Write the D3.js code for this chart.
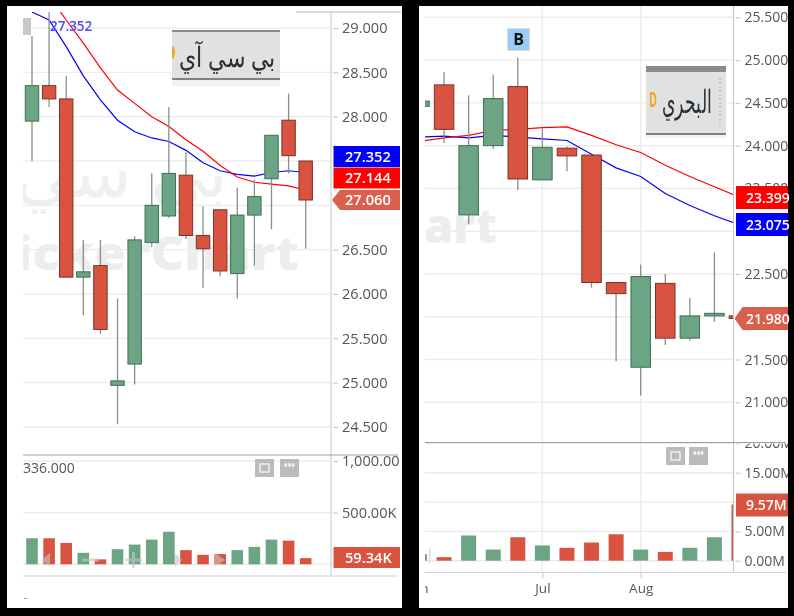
<!DOCTYPE html>
<html><head><meta charset="utf-8">
<script src="https://cdn.jsdelivr.net/npm/d3@7"></script>
<style>html,body{margin:0;padding:0;background:#000}svg{display:block;filter:blur(0.35px)}
text{font-family:"Open Sans",sans-serif}</style></head><body><script>
// ---- left panel data
const leftOpen  =[27.95,28.35,28.20,26.19,26.32,24.97,25.21,26.58,26.88,27.34,26.66,26.95,26.23,26.89,27.30,27.96,27.50];
const leftClose =[28.35,28.20,26.19,26.25,25.60,25.02,26.61,27.00,27.36,26.66,26.51,26.26,26.89,27.10,27.79,27.56,27.06];
const leftHigh  =[28.91,29.18,28.46,26.61,26.61,25.95,26.65,27.36,28.11,27.60,26.99,26.95,27.20,27.29,27.79,28.26,27.50];
const leftLow   =[27.50,28.11,26.19,25.76,25.55,24.53,24.98,26.53,26.86,26.62,26.07,26.20,25.95,26.32,26.73,27.36,26.51];
const leftBlue  =[29.18,29.09,28.79,28.46,28.19,27.96,27.83,27.76,27.72,27.62,27.48,27.39,27.35,27.33,27.37,27.39,27.37];
const leftRed   =[29.60,29.36,29.09,28.83,28.55,28.30,28.15,28.00,27.89,27.74,27.61,27.45,27.32,27.26,27.24,27.22,27.17];
const leftVol   =[252,252,207,111,48,146,191,239,315,137,92,99,137,169,239,229,59.34];
const leftPriceGrid=[24.5,25,25.5,26,26.5,27,27.5,28,28.5,29];
const leftPriceTicks=[24.5,25,25.5,26,26.5,28,28.5,29];
const leftVolTicks=[0,500,1000];
const leftVolLabels=["","500.00K","1,000.00"];
// ---- right panel data
const rightOpen =[24.46,24.71,23.19,24.00,24.69,23.60,23.97,23.89,22.40,21.41,22.39,21.75,22.01,22.01];
const rightClose=[24.52,24.19,24.00,24.55,23.61,23.98,23.88,22.40,22.27,22.47,21.75,22.01,22.04,21.98];
const rightHigh =[24.52,24.86,24.59,24.83,25.03,24.20,23.99,23.89,22.40,22.61,22.50,22.22,22.75,22.01];
const rightLow  =[24.46,24.03,23.08,23.96,23.48,23.60,23.70,22.34,21.48,21.08,21.67,21.72,21.94,21.97];
const rightBlue =[24.10,24.11,24.09,24.12,24.10,24.08,24.06,23.90,23.74,23.64,23.44,23.30,23.18,23.075];
const rightRed  =[24.05,24.09,24.12,24.18,24.19,24.21,24.22,24.12,24.01,23.92,23.77,23.64,23.52,23.399];
const rightVol  =[1.1,0.6,4.3,1.9,4.0,2.6,2.2,3.1,4.5,1.9,1.5,2.2,4.0,9.57];
const rightPriceGrid=[21,21.5,22,22.5,23,23.5,24,24.5,25,25.5];
const rightPriceTicks=[21,21.5,22.5,23.5,24,24.5,25,25.5];
const rightVolTicks=[0,5,10,15,20];
const rightVolLabels=["0.00M","5.00M","","15.00M","20.00M"];
const monthIdx=[-0.06,5,9];
const monthLabels=["Jun","Jul","Aug"];

const C={up:"#6ba583",upB:"#3f6f57",dn:"#d85440",dnB:"#7f3025",wick:"#8c8c8c",grid:"#ececec",axis:"#c4c4c4",txt:"#565656",blue:"#0000ff",red:"#ff0000",tag:"#d9604c"};

const svg=d3.select("body").append("svg").attr("width",794).attr("height",616);
svg.append("rect").attr("width",794).attr("height",616).attr("fill","#000");
const defs=svg.append("defs");
function clip(id,x,y,w,h){defs.append("clipPath").attr("id",id).append("rect").attr("x",x).attr("y",y).attr("width",w).attr("height",h);}

function panel(o){
  const g=svg.append("g");
  g.append("rect").attr("x",o.px).attr("y",6).attr("width",o.pw).attr("height",602).attr("fill","#fff");
  const x=d3.scaleLinear().domain(o.xDom).range(o.xRange);
  const y=d3.scaleLinear().domain(o.yDom).range(o.yRange);
  const v=d3.scaleLinear().domain(o.vDom).range(o.vRange);
  clip(o.id+"P",o.l,o.top,o.r-o.l,o.sep-o.top);
  clip(o.id+"V",o.l,o.sep,o.r-o.l,o.bot-o.sep);
  clip(o.id+"A0",o.r,o.top,o.pEnd-o.r,o.sep-o.top+2);
  clip(o.id+"B0",o.r,o.sep+1,o.pEnd-o.r,o.bot-o.sep);
  const grid=g.append("g").attr("stroke",C.grid).attr("stroke-width",1.4);
  grid.selectAll(".a").data(o.pGrid).join("line").attr("x1",o.l).attr("x2",o.r).attr("y1",d=>y(d)).attr("y2",d=>y(d));
  grid.selectAll(".b").data(o.vTicks).join("line").attr("x1",o.l).attr("x2",o.r).attr("y1",d=>v(d)).attr("y2",d=>v(d));
  o.back&&o.back(g,x);
  const wp=g.append("g").attr("clip-path",`url(#${o.id}P)`);
  o.water(wp);
  const ln=d3.line().x((d,i)=>x(i)).y(d=>y(d));
  wp.append("path").datum(o.blue).attr("d",ln).attr("fill","none").attr("stroke",C.blue).attr("stroke-width",1.2);
  wp.append("path").datum(o.redL).attr("d",ln).attr("fill","none").attr("stroke",C.red).attr("stroke-width",1.2);
  const idx=d3.range(o.open.length);
  wp.selectAll("line.w").data(idx).join("line").attr("x1",i=>x(i)).attr("x2",i=>x(i))
    .attr("y1",i=>y(o.high[i])).attr("y2",i=>y(o.low[i])).attr("stroke",C.wick).attr("stroke-width",1.3);
  wp.selectAll("rect.c").data(idx).join("rect")
    .attr("x",i=>x(i)-o.bw/2).attr("width",o.bw)
    .attr("y",i=>y(Math.max(o.open[i],o.close[i])))
    .attr("height",i=>Math.max(2.5,Math.abs(y(o.open[i])-y(o.close[i]))))
    .attr("fill",i=>o.close[i]>=o.open[i]?C.up:C.dn)
    .attr("stroke",i=>o.close[i]>=o.open[i]?C.upB:C.dnB).attr("stroke-width",1);
  const vg=g.append("g").attr("clip-path",`url(#${o.id}V)`);
  vg.selectAll("rect").data(idx).join("rect").attr("x",i=>x(i)-o.vw/2).attr("width",o.vw)
    .attr("y",i=>v(o.vol[i])).attr("height",i=>v(0)-v(o.vol[i]))
    .attr("fill",i=>o.close[i]>=o.open[i]?C.up:C.dn);
  g.append("line").attr("x1",o.r).attr("x2",o.r).attr("y1",o.top).attr("y2",o.bot).attr("stroke",C.axis);
  g.append("line").attr("x1",o.l).attr("x2",o.pEnd-2).attr("y1",o.sep).attr("y2",o.sep).attr("stroke","#a0a0a0").attr("stroke-width",1.2);
  g.append("line").attr("x1",o.l).attr("x2",o.pEnd-2).attr("y1",o.bot).attr("y2",o.bot).attr("stroke","#d4d4d4").attr("stroke-width",1.2);
  const axP=d3.axisRight(y).tickValues(o.pTicks).tickFormat(d3.format(".3f")).tickSize(5).tickPadding(4);
  const axV=d3.axisRight(v).tickValues(o.vTicks).tickFormat((d,i)=>o.vLabels[i]).tickSize(5).tickPadding(4);
  const a1=g.append("g").attr("clip-path",`url(#${o.id}A0)`).append("g").attr("transform",`translate(${o.r+2},0)`).call(axP);
  const a2=g.append("g").attr("clip-path",`url(#${o.id}B0)`).append("g").attr("transform",`translate(${o.r+2},0)`).call(axV);
  [a1,a2].forEach(a=>{a.select(".domain").remove();a.selectAll("line").attr("stroke","#c4c4c4");
    a.selectAll("text").attr("fill",C.txt).attr("font-size",o.fs).attr("font-family",'"Open Sans",sans-serif');});
  const tags=g.append("g");
  o.tags.forEach(t=>{
    const yy=t.y, h=t.h;
    if(t.arrow){tags.append("path").attr("d",`M${o.r+1},${yy} L${o.r+9},${yy-h/2} H${o.pEnd} V${yy+h/2} H${o.r+9} Z`).attr("fill",t.c);}
    else tags.append("rect").attr("x",o.r+2.5).attr("y",yy-h/2).attr("width",o.pEnd-o.r-2.5).attr("height",h).attr("fill",t.c);
    tags.append("text").attr("x",o.tagX).attr("y",yy).attr("dy","0.36em").attr("fill","#fff").attr("font-weight",600).attr("font-size",o.fs).text(t.t);
  });
  const bt=g.append("g");
  o.btn.forEach((b,i)=>{
    bt.append("rect").attr("x",b).attr("y",o.btnY).attr("width",19).attr("height",18).attr("fill","#bbbbbb");
    if(i===0)bt.append("rect").attr("x",b+5).attr("y",o.btnY+5).attr("width",9).attr("height",8).attr("fill","none").attr("stroke","#efefef").attr("stroke-width",1.5);
    else bt.append("text").attr("x",b+9.5).attr("y",o.btnY+11).attr("text-anchor","middle").attr("fill","#f2f2f2").attr("font-size",12).attr("font-weight",700).text("•••").attr("textLength",11).attr("lengthAdjust","spacingAndGlyphs");
  });
  o.extra(g,x,y,v);
}

function logo(g,x,y,w,h,barT,barB,txt,fs,tx,ty,len){
  g.append("rect").attr("x",x).attr("y",y).attr("width",w).attr("height",h).attr("fill","#f1f3ef");
  g.append("rect").attr("x",x).attr("y",y).attr("width",w).attr("height",h-barB).attr("fill","#e1e1e1");
  g.append("rect").attr("x",x).attr("y",y).attr("width",w).attr("height",barT).attr("fill","#8a8a8a");
  g.append("rect").attr("x",x).attr("y",y+h-barB-2).attr("width",w).attr("height",2).attr("fill","#808080");
  g.append("text").attr("x",tx).attr("y",ty).attr("text-anchor","middle").attr("fill","#263238").attr("font-size",fs)
   .attr("font-family",'"DejaVu Sans",sans-serif').attr("textLength",len).attr("lengthAdjust","spacingAndGlyphs").text(txt);
}

panel({id:"L",px:7,pw:395,l:23,r:331,top:12,sep:455,bot:576,pEnd:400,
  xDom:[0,16],xRange:[32,305.7],yDom:[24.5,29],yRange:[427,28],vDom:[0,1000],vRange:[564.3,461],
  pGrid:leftPriceGrid,pTicks:leftPriceTicks,vTicks:leftVolTicks,vLabels:leftVolLabels,fs:14.6,bw:13.4,vw:11.6,
  open:leftOpen,close:leftClose,high:leftHigh,low:leftLow,blue:leftBlue,redL:leftRed,vol:leftVol,tagX:345,
  tags:[{y:156.5,h:21,c:C.blue,t:"27.352"},{y:178,h:21,c:C.red,t:"27.144"},
        {y:200,h:20,c:C.tag,t:"27.060",arrow:true},{y:557.5,h:21,c:C.dn,t:"59.34K"}],
  btn:[255,280],btnY:459,
  water(w){
    w.append("text").attr("x",227).attr("y",197).attr("text-anchor","end").attr("fill","#efefef").attr("font-size",70).attr("font-family",'"DejaVu Sans",sans-serif').text("بي سي آي");
    w.append("text").attr("x",299).attr("y",270).attr("text-anchor","end").attr("fill","#ededed").attr("font-size",46).attr("font-weight",800).attr("textLength",314).attr("lengthAdjust","spacingAndGlyphs").text("TickerChart");
  },
  extra(g){
    g.append("line").attr("x1",296).attr("x2",401).attr("y1",12).attr("y2",12).attr("stroke","#b4b4b4");
    g.append("rect").attr("x",23).attr("y",18).attr("width",8).attr("height",17).attr("fill","#c8c8c8");
    g.append("text").attr("x",50).attr("y",31).attr("fill","#4a4aff").attr("font-size",13.5).attr("font-weight",600).text("27.352");
    g.append("text").attr("x",23).attr("y",473).attr("fill",C.txt).attr("font-size",14).text("336.000");
    logo(g,172,30,108,56,2,6,"بي سي آي",28,227,67,96);
    g.append("path").attr("d","M172,46 a3,6.5 0 0 1 3,6.5 a3,6.5 0 0 1 -3,6.5 Z").attr("fill","#f5a623");
    const nav=g.append("g").attr("fill","#c8c8c8").attr("opacity",0.6);
    nav.append("path").attr("d","M41,560 L50,553 V567 Z");
    nav.append("rect").attr("x",82).attr("y",558.5).attr("width",17).attr("height",3);
    nav.append("rect").attr("x",125).attr("y",558.5).attr("width",17).attr("height",3);
    nav.append("rect").attr("x",132).attr("y",552).attr("width",3).attr("height",16);
    nav.append("path").attr("d","M175,553 L182,560 L175,567 Z");
    nav.append("path").attr("d","M215,553 L225,560 L215,567 Z");
    g.append("rect").attr("x",24).attr("y",598).attr("width",3).attr("height",1).attr("fill","#999");
  }
});

panel({id:"R",px:419,pw:369,l:425,r:733.5,top:6,sep:442.5,bot:572.5,pEnd:788,
  xDom:[0,13],xRange:[419.5,739],yDom:[21,25.5],yRange:[402.3,17.3],vDom:[0,15],vRange:[560.7,472.7],
  pGrid:rightPriceGrid,pTicks:rightPriceTicks,vTicks:rightVolTicks,vLabels:rightVolLabels,fs:14,bw:19.5,vw:15,
  open:rightOpen,close:rightClose,high:rightHigh,low:rightLow,blue:rightBlue,redL:rightRed,vol:rightVol,tagX:746,
  tags:[{y:197.5,h:23,c:C.red,t:"23.399"},{y:224.5,h:23,c:C.blue,t:"23.075"},
        {y:318.5,h:23,c:C.tag,t:"21.980",arrow:true},{y:505,h:23,c:C.dn,t:"9.57M"}],
  btn:[666,689],btnY:447,
  back(g,x){
    const mg=g.append("g");
    monthIdx.slice(1).forEach(m=>{mg.append("line").attr("x1",x(m)).attr("x2",x(m)).attr("y1",6).attr("y2",572).attr("stroke",C.grid).attr("stroke-width",1.4);});
  },
  water(w){
    w.append("text").attr("x",497).attr("y",243).attr("text-anchor","end").attr("fill","#ededed").attr("font-size",47).attr("font-weight",800).text("TickerChart");
  },
  extra(g,x){
    const xa=d3.axisBottom(x).tickValues(monthIdx).tickFormat((d,i)=>monthLabels[i]).tickSize(6).tickPadding(5);
    clip("RX0",425,572,320,30);
    const a=g.append("g").attr("clip-path","url(#RX0)").append("g").attr("transform","translate(0,572.5)").call(xa);
    a.select(".domain").remove();a.selectAll("line").attr("stroke","#c8c8c8");
    a.selectAll("text").attr("fill",C.txt).attr("font-size",13.5);
    g.append("rect").attr("x",507.5).attr("y",28.5).attr("width",22).attr("height",22).attr("fill","#99ccf7").attr("stroke","#dcdcdc");
    g.append("text").attr("x",518.5).attr("y",39.5).attr("dy","0.36em").attr("text-anchor","middle").attr("font-size",16).attr("font-weight",700).attr("fill","#111").attr("font-family",'"Liberation Sans",sans-serif').text("B");
    logo(g,646,66,80,72,6,3,"البحري",32,687,113,50);
    g.append("text").attr("x",653).attr("y",107).attr("text-anchor","middle").attr("fill","#f5a623").attr("font-size",22).attr("font-weight",700).attr("textLength",8).attr("lengthAdjust","spacingAndGlyphs").text("D");
    g.append("line").attr("x1",720).attr("x2",720).attr("y1",78).attr("y2",127).attr("stroke","#bdbdbd").attr("stroke-width",1.5).attr("stroke-dasharray","2 2");
    g.append("rect").attr("x",429).attr("y",548).attr("width",1.5).attr("height",15).attr("fill","#dddddd");
  }
});
</script></body></html>
